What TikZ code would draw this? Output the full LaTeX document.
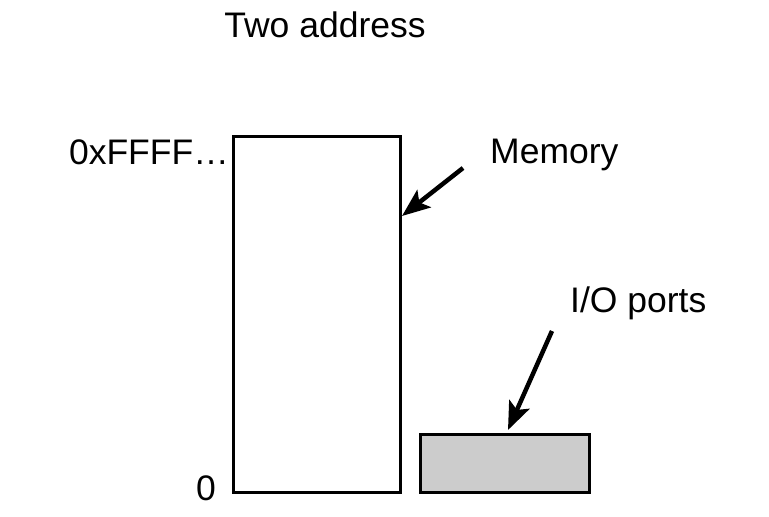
\documentclass[tikz,border=0pt]{standalone}
\usepackage{fontspec}
\setmainfont{Liberation Sans}
\usetikzlibrary{arrows.meta}
\begin{document}
\begin{tikzpicture}[x=1pt,y=-1pt,
  lbl/.style={font=\fontsize{35.5}{40}\selectfont, inner sep=0pt, anchor=base west},
  box/.style={draw, line width=3pt, inner sep=0pt, anchor=north west},
  arr/.style={line width=4.5pt, -{Stealth[length=28pt,width=22pt,inset=6pt]}}]
\useasboundingbox (0,0) rectangle (769,517);
\node[lbl, anchor=base] (title) at (325,37) {Two address};
\node[box, minimum width=167pt, minimum height=356pt] (mem) at (232,135) {};
\node[box, fill={rgb,255:red,204;green,204;blue,204}, minimum width=169pt, minimum height=58pt] (io) at (419,433) {};
\node[lbl, anchor=base east] (top) at (229,164) {0xFFFF\ldots};
\node[lbl, anchor=base east] (zero) at (216,500) {0};
\node[lbl] (memlbl) at (490,163) {Memory};
\node[lbl] (iolbl) at (570,312) {I/O ports};
\coordinate (m0) at (463,168);
\coordinate (i0) at (552,331);
\draw[arr] (m0) -- (mem.north east |- 0,216);
\draw[arr] (i0) -- (508,430);
\end{tikzpicture}
\end{document}
